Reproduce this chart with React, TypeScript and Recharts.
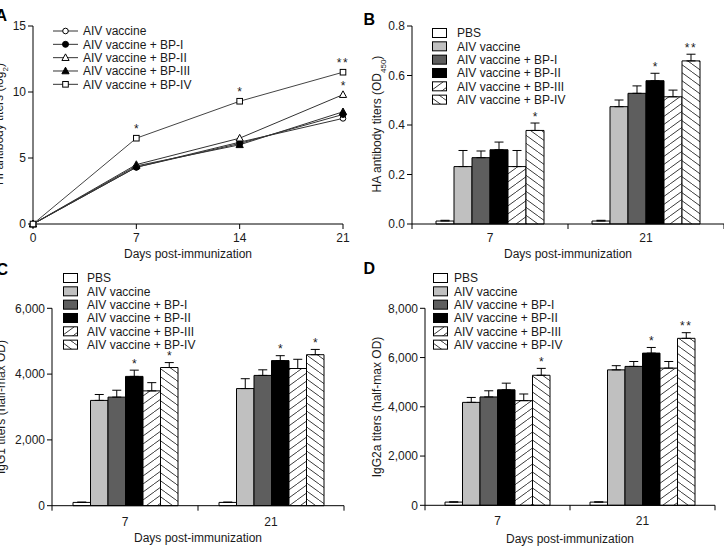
import React from 'react';
import { LineChart, Line, BarChart, Bar, XAxis, YAxis, ErrorBar, LabelList, Legend, Label } from 'recharts';

const FONT = '"Liberation Sans", Arial, Helvetica, sans-serif';
const INK = '#1a1a1a';

// ---------- Panel A: HI titers ----------
const hiDays = [0, 7, 14, 21];
const hiAIV = [0, 4.3, 6.2, 8.0];
const hiBP1 = [0, 4.3, 6.1, 8.3];
const hiBP2 = [0, 4.5, 6.5, 9.8];
const hiBP3 = [0, 4.4, 6.0, 8.5];
const hiBP4 = [0, 6.5, 9.3, 11.5];
const hiStarBP2 = ['', '', '', '*'];
const hiStarBP4 = ['', '*', '*', '**'];
const hiXTicks = [0, 7, 14, 21];
const hiYTicks = [0, 5, 10, 15];
const lineNames = ['AIV vaccine', 'AIV vaccine + BP-I', 'AIV vaccine + BP-II', 'AIV vaccine + BP-III', 'AIV vaccine + BP-IV'];

// ---------- Bar panels ----------
const barDays = ['7', '21'];
const barNames = ['PBS', 'AIV vaccine', 'AIV vaccine + BP-I', 'AIV vaccine + BP-II', 'AIV vaccine + BP-III', 'AIV vaccine + BP-IV'];

// Panel B: HA antibody titers (OD450)
const haDay7 = [0.012, 0.232, 0.268, 0.300, 0.232, 0.378];
const haDay7Err = [0.003, 0.065, 0.027, 0.031, 0.065, 0.030];
const haDay7Star = ['', '', '', '', '', '*'];
const haDay21 = [0.012, 0.474, 0.528, 0.579, 0.514, 0.659];
const haDay21Err = [0.003, 0.027, 0.030, 0.030, 0.027, 0.027];
const haDay21Star = ['', '', '', '*', '', '**'];
const haTicks = [0, 0.2, 0.4, 0.6, 0.8];

// Panel C: IgG1 titers
const igg1Day7 = [100, 3200, 3300, 3930, 3490, 4200];
const igg1Day7Err = [10, 180, 210, 190, 250, 150];
const igg1Day7Star = ['', '', '', '*', '', '*'];
const igg1Day21 = [100, 3560, 3960, 4410, 4170, 4590];
const igg1Day21Err = [10, 300, 170, 150, 280, 160];
const igg1Day21Star = ['', '', '', '*', '', '*'];
const igg1Ticks = [0, 2000, 4000, 6000];

// Panel D: IgG2a titers
const igg2aDay7 = [130, 4180, 4400, 4690, 4250, 5280];
const igg2aDay7Err = [10, 200, 250, 270, 270, 280];
const igg2aDay7Star = ['', '', '', '', '', '*'];
const igg2aDay21 = [130, 5500, 5640, 6180, 5570, 6780];
const igg2aDay21Err = [10, 170, 200, 230, 270, 230];
const igg2aDay21Star = ['', '', '', '*', '', '**'];
const igg2aTicks = [0, 2000, 4000, 6000, 8000];

const hiRows = hiDays.map((d, i) => ({
  day: d, aiv: hiAIV[i], bp1: hiBP1[i], bp2: hiBP2[i], bp3: hiBP3[i], bp4: hiBP4[i],
  s2: hiStarBP2[i], s4: hiStarBP4[i],
}));

function buildRows(means: number[][], errs: number[][], stars: string[][]) {
  return barDays.map((d, i) => {
    const r: any = { day: d };
    means[i].forEach((v, k) => {
      r['v' + k] = v;
      r['e' + k] = [0, errs[i][k]];
      r['s' + k] = stars[i][k];
    });
    return r;
  });
}

const haRows = buildRows([haDay7, haDay21], [haDay7Err, haDay21Err], [haDay7Star, haDay21Star]);
const igg1Rows = buildRows([igg1Day7, igg1Day21], [igg1Day7Err, igg1Day21Err], [igg1Day7Star, igg1Day21Star]);
const igg2aRows = buildRows([igg2aDay7, igg2aDay21], [igg2aDay7Err, igg2aDay21Err], [igg2aDay7Star, igg2aDay21Star]);

const num = (a: any, b: any) => (typeof a === 'number' ? a : typeof b === 'number' ? b : 0);

function Marker({ kind, cx, cy }: { kind: number; cx: number; cy: number }) {
  const s = '#000';
  switch (kind) {
    case 0:
      return <circle cx={cx} cy={cy} r={2.8} fill="#fff" stroke={s} strokeWidth={1} />;
    case 1:
      return <circle cx={cx} cy={cy} r={3} fill="#000" stroke={s} strokeWidth={1} />;
    case 2:
      return <polygon points={`${cx},${cy - 3.8} ${cx - 3.6},${cy + 2.8} ${cx + 3.6},${cy + 2.8}`} fill="#fff" stroke={s} strokeWidth={1} />;
    case 3:
      return <polygon points={`${cx},${cy - 3.8} ${cx - 3.6},${cy + 2.8} ${cx + 3.6},${cy + 2.8}`} fill="#000" stroke={s} strokeWidth={1} />;
    default:
      return <rect x={cx - 2.8} y={cy - 2.8} width={5.6} height={5.6} fill="#fff" stroke={s} strokeWidth={1} />;
  }
}

const dotFor = (kind: number) => (p: any) => {
  if (p.cx == null || p.cy == null) return <g key={'d' + kind + '-' + p.index} />;
  return <Marker key={'d' + kind + '-' + p.index} kind={kind} cx={p.cx} cy={p.cy} />;
};

function PointStar(p: any) {
  const vb = p.viewBox || {};
  const x = num(p.x, vb.x);
  const y = num(p.y, vb.y);
  const w = num(p.width, vb.width);
  const txt = p.value;
  if (!txt) return null;
  return (
    <text x={x + w / 2} y={y - 5} textAnchor="middle" fontSize={12} fontFamily={FONT} fill={INK} letterSpacing={txt.length > 1 ? 1.5 : 0}>
      {txt}
    </text>
  );
}

function BarStar({ p, rows, k }: { p: any; rows: any[]; k: number }) {
  const vb = p.viewBox || {};
  const x = num(p.x, vb.x);
  const y = num(p.y, vb.y);
  const w = num(p.width, vb.width);
  const h = num(p.height, vb.height);
  const txt = p.value;
  const idx = p.index;
  if (!txt || idx == null) return null;
  const row = rows[idx];
  const val = row['v' + k];
  const err = row['e' + k][1];
  const capY = y - (err * h) / val;
  return (
    <text x={x + w / 2} y={capY - 2.5} textAnchor="middle" fontSize={12} fontFamily={FONT} fill={INK} letterSpacing={txt.length > 1 ? 1.5 : 0}>
      {txt}
    </text>
  );
}

function Hatch({ id, dir }: { id: string; dir: number }) {
  const w = 11;
  const h = 8;
  const d = dir > 0
    ? `M0,${h} L${w},0 M${-w},${h} L0,0 M${w},${h} L${2 * w},0`
    : `M0,0 L${w},${h} M${-w},0 L0,${h} M${w},0 L${2 * w},${h}`;
  return (
    <pattern id={id} patternUnits="userSpaceOnUse" width={w} height={h}>
      <rect width={w} height={h} fill="#fff" />
      <path d={d} stroke="#222" strokeWidth={0.9} fill="none" />
    </pattern>
  );
}

function LineLegend() {
  const rowH = 13.33;
  return (
    <svg width={180} height={70} style={{ display: 'block', overflow: 'visible' }}>
      {lineNames.map((n, k) => {
        const cy = 7 + k * rowH;
        return (
          <g key={n}>
            <line x1={0} x2={25} y1={cy} y2={cy} stroke="#333" strokeWidth={1} />
            <Marker kind={k} cx={12.5} cy={cy} />
            <text x={30} y={cy + 4.3} fontSize={12} fontFamily={FONT} fill={INK}>{n}</text>
          </g>
        );
      })}
    </svg>
  );
}

function BarLegend({ fills, textX }: { fills: string[]; textX: number }) {
  const rowH = 13.33;
  return (
    <svg width={200} height={84} style={{ display: 'block', overflow: 'visible' }}>
      {barNames.map((n, k) => {
        const cy = 7 + k * rowH;
        return (
          <g key={n}>
            <rect x={0.5} y={cy - 4.5} width={14} height={9} fill={fills[k]} stroke="#000" strokeWidth={1} />
            <text x={textX} y={cy + 4.3} fontSize={12} fontFamily={FONT} fill={INK}>{n}</text>
          </g>
        );
      })}
    </svg>
  );
}

function RotLabel({ x, y, main, sub, tail }: { x: number; y: number; main: string; sub?: string; tail?: string }) {
  return (
    <text x={x} y={y} transform={`rotate(-90 ${x} ${y})`} textAnchor="middle" fontSize={12} fontFamily={FONT} fill={INK}>
      {main}
      {sub ? <tspan baselineShift="sub" fontSize={8}>{sub}</tspan> : null}
      {tail ? <tspan>{tail}</tspan> : null}
    </text>
  );
}

function Title({ x, y }: { x: number; y: number }) {
  return (
    <text x={x} y={y} textAnchor="middle" fontSize={12} fontFamily={FONT} fill={INK}>
      Days post-immunization
    </text>
  );
}

function PanelA() {
  return (
    <div style={{ position: 'absolute', left: 0, top: 0, width: 362, height: 274 }}>
      <LineChart width={362} height={274} data={hiRows} margin={{ top: 26, right: 19, left: 0, bottom: 0 }}>
        <XAxis dataKey="day" type="number" domain={[0, 21]} ticks={hiXTicks} interval={0} height={50}
          tickSize={5} tickMargin={4} stroke="#000" tick={{ fill: INK, fontSize: 12, fontFamily: FONT }}>
          <Label content={() => <Title x={188} y={257.5} />} />
        </XAxis>
        <YAxis type="number" domain={[0, 15]} ticks={hiYTicks} interval={0} width={33}
          tickSize={5} tickMargin={2} stroke="#000" tick={{ fill: INK, fontSize: 12, fontFamily: FONT }}>
          <Label content={() => <RotLabel x={3} y={124} main="HI antibody titers (log" sub="2" tail=")" />} />
        </YAxis>
        <Line dataKey="aiv" name={lineNames[0]} stroke="#333" strokeWidth={1} dot={dotFor(0)} activeDot={false} isAnimationActive={false} />
        <Line dataKey="bp1" name={lineNames[1]} stroke="#333" strokeWidth={1} dot={dotFor(1)} activeDot={false} isAnimationActive={false} />
        <Line dataKey="bp2" name={lineNames[2]} stroke="#333" strokeWidth={1} dot={dotFor(2)} activeDot={false} isAnimationActive={false}>
          <LabelList dataKey="s2" content={(p: any) => <PointStar {...p} />} />
        </Line>
        <Line dataKey="bp3" name={lineNames[3]} stroke="#333" strokeWidth={1} dot={dotFor(3)} activeDot={false} isAnimationActive={false} />
        <Line dataKey="bp4" name={lineNames[4]} stroke="#444" strokeWidth={1} dot={dotFor(4)} activeDot={false} isAnimationActive={false}>
          <LabelList dataKey="s4" content={(p: any) => <PointStar {...p} />} />
        </Line>
        <Legend layout="vertical" align="center" verticalAlign="middle"
          wrapperStyle={{ left: 53, top: 24, width: 180, height: 70, right: 'auto', bottom: 'auto' }}
          content={() => <LineLegend />} />
      </LineChart>
    </div>
  );
}

type BarPanelProps = {
  pid: string; left: number; top: number; width: number; height: number;
  margin: { top: number; right: number; left: number; bottom: number };
  yWidth: number; xHeight: number; yMax: number; yTicks: number[]; fmt: (v: number) => string;
  rows: any[]; barSize: number; tickDy: number; titleX: number; titleY: number;
  yLab: { x: number; y: number; main: string; sub?: string; tail?: string };
  legendLeft: number; legendTop: number; textX: number;
};

function BarPanel(P: BarPanelProps) {
  const fills = ['#ffffff', '#c0c0c0', '#5e5e5e', '#000000', `url(#${P.pid}-h3)`, `url(#${P.pid}-h4)`];
  const plotW = P.width - P.margin.left - P.margin.right - P.yWidth;
  const halfBand = plotW / barDays.length / 2;
  const catTick = (p: any) => {
    const x = p.x;
    const axisY = p.y;
    const i = p.index ?? 0;
    return (
      <g>
        {i === 0 ? <line x1={x - halfBand} x2={x - halfBand} y1={axisY} y2={axisY + 5} stroke="#000" strokeWidth={1} /> : null}
        <line x1={x + halfBand} x2={x + halfBand} y1={axisY} y2={axisY + 5} stroke="#000" strokeWidth={1} />
        <text x={x} y={axisY + P.tickDy} textAnchor="middle" fontSize={12} fontFamily={FONT} fill={INK}>
          {p.payload?.value}
        </text>
      </g>
    );
  };
  return (
    <div style={{ position: 'absolute', left: P.left, top: P.top, width: P.width, height: P.height }}>
      <BarChart width={P.width} height={P.height} data={P.rows} margin={P.margin} barGap={0} barSize={P.barSize}>
        <defs>
          <Hatch id={`${P.pid}-h3`} dir={1} />
          <Hatch id={`${P.pid}-h4`} dir={-1} />
        </defs>
        <XAxis dataKey="day" interval={0} height={P.xHeight} tickSize={0} tickMargin={0} tickLine={false}
          axisLine={{ stroke: '#000' }} tick={catTick}>
          <Label content={() => <Title x={P.titleX} y={P.titleY} />} />
        </XAxis>
        <YAxis type="number" domain={[0, P.yMax]} ticks={P.yTicks} interval={0} width={P.yWidth} tickFormatter={P.fmt}
          tickSize={5} tickMargin={2} stroke="#000" tick={{ fill: INK, fontSize: 12, fontFamily: FONT }}>
          <Label content={() => <RotLabel {...P.yLab} />} />
        </YAxis>
        {barNames.map((n, k) => (
          <Bar key={n} dataKey={`v${k}`} name={n} fill={fills[k]} stroke="#000" strokeWidth={1} isAnimationActive={false}>
            <ErrorBar dataKey={`e${k}`} width={4.5} stroke="#000" strokeWidth={1} direction="y" isAnimationActive={false} />
            <LabelList dataKey={`s${k}`} content={(p: any) => <BarStar p={p} rows={P.rows} k={k} />} />
          </Bar>
        ))}
        <Legend layout="vertical" align="center" verticalAlign="middle"
          wrapperStyle={{ left: P.legendLeft, top: P.legendTop, width: 200, height: 84, right: 'auto', bottom: 'auto' }}
          content={() => <BarLegend fills={fills} textX={P.textX} />} />
      </BarChart>
    </div>
  );
}

const fmt1 = (v: number) => v.toFixed(1);
const fmtK = (v: number) => v.toLocaleString('en-US');

export default function App() {
  return (
    <div style={{ position: 'absolute', left: 0, top: 0, width: 724, height: 548, background: '#fff', overflow: 'hidden', fontFamily: FONT }}>
      <PanelA />
      <BarPanel pid="b" left={362} top={0} width={362} height={274}
        margin={{ top: 26, right: 0, left: 0, bottom: 0 }} yWidth={50} xHeight={50}
        yMax={0.8} yTicks={haTicks} fmt={fmt1} rows={haRows} barSize={18} tickDy={17.5}
        titleX={206} titleY={258}
        yLab={{ x: 18.5, y: 124, main: 'HA antibody titers (OD', sub: '450', tail: ')' }}
        legendLeft={70} legendTop={26.3} textX={25} />
      <BarPanel pid="c" left={0} top={260} width={362} height={288}
        margin={{ top: 48.3, right: 18, left: 0, bottom: 0 }} yWidth={52} xHeight={42.3}
        yMax={6000} yTicks={igg1Ticks} fmt={fmtK} rows={igg1Rows} barSize={17.5} tickDy={20}
        titleX={198} titleY={282.3}
        yLab={{ x: 4.5, y: 147, main: 'IgG1 titers (half-max OD)' }}
        legendLeft={63} legendTop={11} textX={24} />
      <BarPanel pid="d" left={362} top={260} width={362} height={288}
        margin={{ top: 48.3, right: 9, left: 0, bottom: 0 }} yWidth={63} xHeight={42.7}
        yMax={8000} yTicks={igg2aTicks} fmt={fmtK} rows={igg2aRows} barSize={17.5} tickDy={20}
        titleX={208} titleY={283}
        yLab={{ x: 18.5, y: 147, main: 'IgG2a titers (half-max OD)' }}
        legendLeft={71} legendTop={11} textX={21} />
      <svg width={724} height={548} style={{ position: 'absolute', left: 0, top: 0, pointerEvents: 'none' }}>
        <text x={-4.5} y={21} fontSize={16} fontWeight="bold" fontFamily={FONT} fill="#000">A</text>
        <text x={363.5} y={25} fontSize={16} fontWeight="bold" fontFamily={FONT} fill="#000">B</text>
        <text x={-3.5} y={275} fontSize={16} fontWeight="bold" fontFamily={FONT} fill="#000">C</text>
        <text x={363.5} y={274} fontSize={16} fontWeight="bold" fontFamily={FONT} fill="#000">D</text>
      </svg>
    </div>
  );
}
